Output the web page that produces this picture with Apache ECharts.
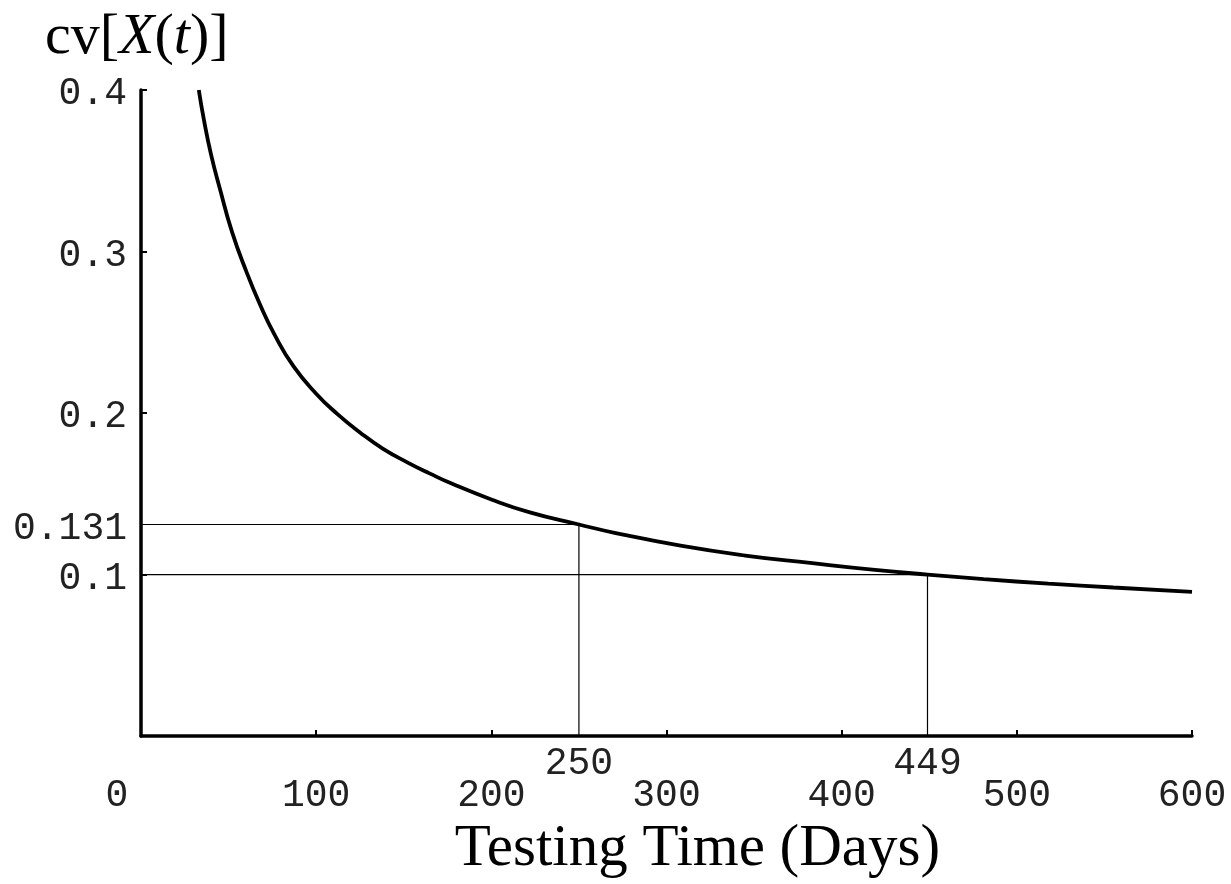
<!DOCTYPE html>
<html>
<head>
<meta charset="utf-8">
<script src="https://cdn.jsdelivr.net/npm/echarts@6/dist/echarts.min.js"></script>
<style>
  html, body { margin: 0; padding: 0; background: #fff; }
  #chart { width: 1231px; height: 884px; }
</style>
</head>
<body>
<div id="chart"></div>
<script>
// Coefficient of variation of X(t) against testing time
const tDays = [33, 36, 40, 45, 52, 60, 68, 76, 87, 100, 112, 125, 138, 152, 165, 177,
               200, 222, 250, 271, 308, 345, 382, 419, 449, 481, 518, 555, 600];
const cvValues = [0.400, 0.381, 0.360, 0.339, 0.312, 0.288, 0.267, 0.249, 0.229, 0.212,
                  0.1995, 0.188, 0.178, 0.1695, 0.1625, 0.1565, 0.1465, 0.1385, 0.131, 0.1257,
                  0.1179, 0.1118, 0.1072, 0.1029, 0.100, 0.0972, 0.0944, 0.0920, 0.0893];

// Marked points: time at which cv reaches the given level
const markT = [250, 449];
const markCv = [0.131, 0.1];

// Tick labels
const xLabelValues = [0, 100, 200, 250, 300, 400, 449, 500, 600];
const yLabelValues = [0.1, 0.131, 0.2, 0.3, 0.4];

const MONO = '"Liberation Mono", "DejaVu Sans Mono", monospace';
const SERIF = '"Liberation Serif", "DejaVu Serif", serif';
const LABEL_COLOR = '#222';

const curveData = tDays.map((t, i) => [t, cvValues[i]]);
const guideSeries = markT.map((t, i) => ({
  type: 'line',
  data: [[0, markCv[i]], [t, markCv[i]], [t, 0]],
  showSymbol: false,
  symbol: 'none',
  lineStyle: { color: '#000', width: 1.2 },
  z: 2,
  silent: true
}));

const chart = echarts.init(document.getElementById('chart'), null, { renderer: 'canvas' });
chart.setOption({
  animation: false,
  backgroundColor: '#fff',
  title: {
    text: '{a|cv[}{i|X}{a|(}{i|t}{a|)]}',
    left: 40,
    top: 3,
    textStyle: {
      fontWeight: 'normal',
      rich: {
        a: { fontFamily: SERIF, fontSize: 58, fontWeight: 'normal', color: '#000', lineHeight: 60 },
        i: { fontFamily: SERIF, fontSize: 58, fontWeight: 'normal', fontStyle: 'italic', color: '#000', lineHeight: 60 }
      }
    }
  },
  grid: { left: 141, right: 39, top: 90, bottom: 145 },
  xAxis: {
    type: 'value',
    min: 0,
    max: 600,
    interval: 100,
    name: 'Testing Time (Days)',
    nameLocation: 'middle',
    nameGap: 76,
    nameTextStyle: { fontFamily: SERIF, fontSize: 59, color: '#000', padding: [0, 0, 0, 62] },
    axisLine: { show: true, onZero: false, lineStyle: { color: '#000', width: 3.5 } },
    axisTick: { show: true, inside: true, length: 6, lineStyle: { color: '#000', width: 2 } },
    splitLine: { show: false },
    axisLabel: {
      customValues: xLabelValues,
      margin: 25,
      formatter: function (v) {
        if (v === 0) return '{z|0}';
        if (markT.indexOf(v) >= 0) return '{h|' + v + '}';
        return '{n|' + v + '}';
      },
      rich: {
        n: { fontFamily: MONO, fontSize: 38, color: LABEL_COLOR, lineHeight: 38, padding: [32, 0, 0, 0] },
        h: { fontFamily: MONO, fontSize: 38, color: LABEL_COLOR, lineHeight: 38, padding: [0, 0, 32, 0] },
        z: { fontFamily: MONO, fontSize: 38, color: LABEL_COLOR, lineHeight: 38, padding: [32, 48, 0, 0] }
      }
    }
  },
  yAxis: {
    type: 'value',
    min: 0,
    max: 0.4,
    interval: 0.1,
    axisLine: { show: true, onZero: false, lineStyle: { color: '#000', width: 3.5 } },
    axisTick: { show: true, inside: true, length: 6, lineStyle: { color: '#000', width: 2 } },
    splitLine: { show: false },
    axisLabel: {
      customValues: yLabelValues,
      margin: 14,
      formatter: function (v) { return '{v|' + v + '}'; },
      rich: {
        v: { fontFamily: MONO, fontSize: 38, color: LABEL_COLOR, lineHeight: 38, padding: [8, 0, 0, 0] }
      }
    }
  },
  series: [
    {
      type: 'line',
      data: curveData,
      smooth: true,
      showSymbol: false,
      symbol: 'none',
      lineStyle: { color: '#000', width: 3.8 },
      z: 3,
      silent: true
    }
  ].concat(guideSeries)
});
</script>
</body>
</html>
